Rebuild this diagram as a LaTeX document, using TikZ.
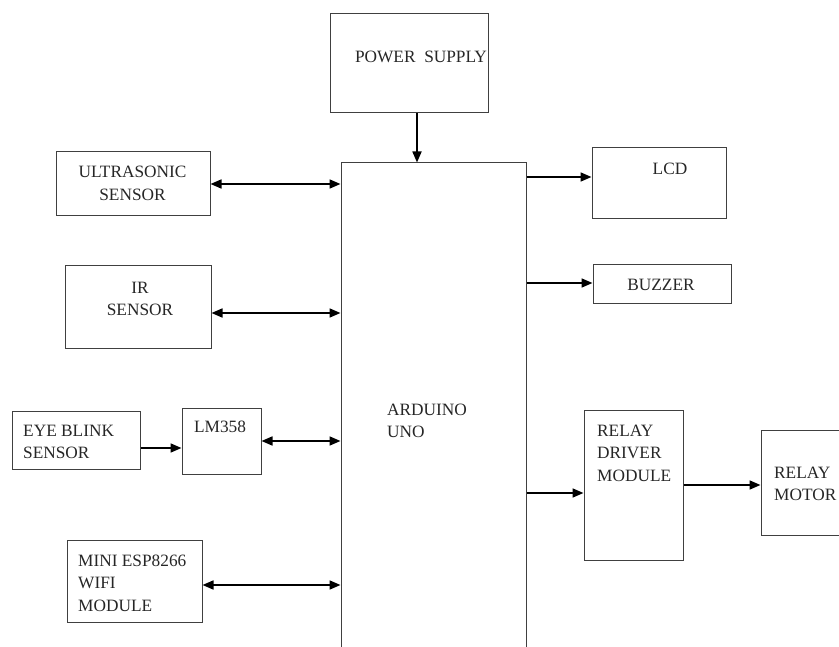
\documentclass[tikz,border=0pt]{standalone}
\usepackage{fontspec}
\setmainfont{Liberation Serif}
\usepackage{tikz}
\usetikzlibrary{arrows.meta}

\tikzset{
  blk/.style={draw=black!75, line width=1pt, inner sep=0pt},
  txt/.style={font=\fontsize{17.3}{22.5}\selectfont, text=black!85, inner sep=0pt, align=left},
  arr/.style={line width=1.7pt, -{Triangle[length=11pt,width=9pt]}},
  darr/.style={line width=1.7pt, {Triangle[length=11pt,width=9pt]}-{Triangle[length=11pt,width=9pt]}}
}

\begin{document}
\begin{tikzpicture}[x=1pt, y=-1pt]
  \useasboundingbox (0,0) rectangle (839,647);
  \clip (0,0) rectangle (839,647);
  \node[blk, minimum width=158, minimum height=99] (pwr) at (409,63.5) {};
  \node[blk, minimum width=185, minimum height=537] (uno) at (433.5,431.5) {};
  \node[blk, minimum width=154, minimum height=64] (ultra) at (133,184) {};
  \node[blk, minimum width=146, minimum height=83] (ir) at (138,307.5) {};
  \node[blk, minimum width=128, minimum height=58] (eye) at (76,440) {};
  \node[blk, minimum width=79, minimum height=66] (lm) at (221.5,441) {};
  \node[blk, minimum width=135, minimum height=82] (esp) at (134.5,581) {};
  \node[blk, minimum width=134, minimum height=71] (lcd) at (659,183.5) {};
  \node[blk, minimum width=138, minimum height=39] (buzz) at (662,284.5) {};
  \node[blk, minimum width=99, minimum height=150] (rdm) at (633.5,485) {};
  \node[blk, minimum width=139, minimum height=105] (motor) at (830.5,482.5) {};

  \node[txt] (pwrtxt) at (421,57) {POWER\ \ SUPPLY};
  \node[txt, anchor=west] (unotxt) at (387,421) {ARDUINO\\UNO};
  \node[txt, align=center] (ultratxt) at (132.5,183.5) {ULTRASONIC\\SENSOR};
  \node[txt, align=center] (irtxt) at (140,299) {IR\\SENSOR};
  \node[txt, anchor=west] (eyetxt) at (23,442) {EYE BLINK\\SENSOR};
  \node[txt] (lmtxt) at (220,427) {LM358};
  \node[txt, anchor=west] (esptxt) at (78,583) {MINI ESP8266\\WIFI\\MODULE};
  \node[txt] (lcdtxt) at (670,169) {LCD};
  \node[txt] (buzztxt) at (661,285) {BUZZER};
  \node[txt, anchor=west] (rdmtxt) at (597,453) {RELAY\\DRIVER\\MODULE};
  \node[txt, anchor=west] (motortxt) at (774,484) {RELAY\\MOTOR};

  \draw[arr] ([xshift=8]pwr.south) -- ([xshift=8]pwr.south |- uno.north);
  \draw[darr] (ultra.east) -- (ultra.east -| uno.west);
  \draw[darr] ([yshift=-5.5]ir.east) -- ([yshift=-5.5]ir.east -| uno.west);
  \draw[arr] ([yshift=-8]eye.east) -- ([yshift=-8]eye.east -| lm.west);
  \draw[darr] (lm.east) -- (lm.east -| uno.west);
  \draw[darr] ([yshift=-4]esp.east) -- ([yshift=-4]esp.east -| uno.west);
  \draw[arr] ([yshift=6.5]lcd.west -| uno.east) -- ([yshift=6.5]lcd.west);
  \draw[arr] ([yshift=1.5]buzz.west -| uno.east) -- ([yshift=1.5]buzz.west);
  \draw[arr] ([yshift=-8]rdm.west -| uno.east) -- ([yshift=-8]rdm.west);
  \draw[arr] (rdm.east) -- (rdm.east -| motor.west);
\end{tikzpicture}
\end{document}
